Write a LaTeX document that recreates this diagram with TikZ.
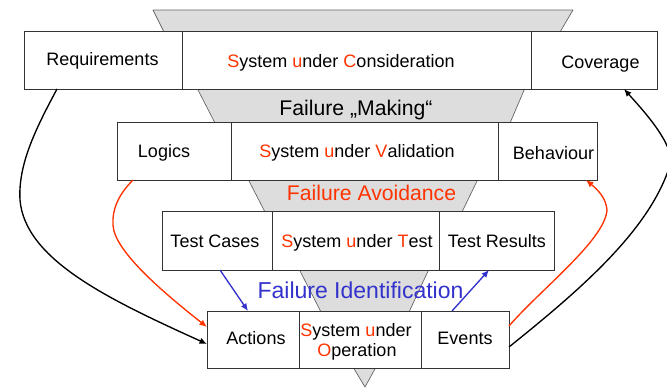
\documentclass[tikz,border=0pt]{standalone}
\usepackage{fontspec}
\setmainfont{Liberation Sans}
\usetikzlibrary{arrows.meta,calc}
\definecolor{suRed}{HTML}{FF3300}
\definecolor{suBlue}{HTML}{3333CC}
\definecolor{funnelGray}{HTML}{DDDDDD}
\newcommand\capred[1]{\textcolor{suRed}{#1}}
\begin{document}
\begin{tikzpicture}[x=1pt,y=-1pt,
  funnel/.style={fill=funnelGray, draw=black!60, line width=0.7pt, line join=round},
  cell/.style={rectangle, draw=black!80, fill=white, line width=0.9pt, anchor=north west, inner sep=0pt, outer sep=0pt},
  lbl/.style={anchor=base, inner sep=0pt, font=\fontsize{18}{20}\selectfont},
  stage/.style={anchor=base, inner sep=0pt, font=\fontsize{21.2}{24}\selectfont},
  flow/.style={line width=1.35pt, -{Latex[length=7.5pt,width=6.5pt]}},
]
\useasboundingbox (0,0) rectangle (667,388);

% funnel segments between the levels
\draw[funnel] (153,10) -- (573,10) -- (560,32) -- (164,32) -- cycle;
\draw[funnel] (197,88) -- (525,88) -- (510,123) -- (215,123) -- cycle;
\draw[funnel] (248,179) -- (478,179) -- (462,212) -- (265,212) -- cycle;
\draw[funnel] (299,269) -- (429,269) -- (409,312) -- (321,312) -- cycle;
\draw[funnel] (353,367) -- (376,367) -- (365,387) -- cycle;

% level 1
\node[cell, minimum width=158pt, minimum height=58pt] (req) at (24,31) {};
\node[cell, minimum width=349pt, minimum height=58pt] (suc) at (182,31) {};
\node[cell, minimum width=126pt, minimum height=58pt] (cov) at (531,31) {};
% level 2
\node[cell, minimum width=114pt, minimum height=58pt] (log) at (117,122) {};
\node[cell, minimum width=267pt, minimum height=58pt] (suv) at (231,122) {};
\node[cell, minimum width=99pt, minimum height=58pt] (beh) at (498,122) {};
% level 3
\node[cell, minimum width=110pt, minimum height=59pt] (tc) at (162,211) {};
\node[cell, minimum width=167pt, minimum height=59pt] (sut) at (272,211) {};
\node[cell, minimum width=115pt, minimum height=59pt] (tr) at (439,211) {};
% level 4
\node[cell, minimum width=92pt, minimum height=57pt] (act) at (207,311) {};
\node[cell, minimum width=122pt, minimum height=57pt] (suo) at (299,311) {};
\node[cell, minimum width=88pt, minimum height=57pt] (ev) at (421,311) {};

% cell texts
\node[lbl] (t-req) at (102.5,65) {Requirements};
\node[lbl] (t-suc) at (341,67.7) {\capred{S}ystem \capred{u}nder \capred{C}onsideration};
\node[lbl] (t-cov) at (600.5,68) {Coverage};
\node[lbl] (t-log) at (164,157) {Logics};
\node[lbl] (t-suv) at (357,157) {\capred{S}ystem \capred{u}nder \capred{V}alidation};
\node[lbl] (t-beh) at (553.5,159) {Behaviour};
\node[lbl] (t-tc) at (215,247) {Test Cases};
\node[lbl] (t-sut) at (357,247) {\capred{S}ystem \capred{u}nder \capred{T}est};
\node[lbl] (t-tr) at (497,247.5) {Test Results};
\node[lbl] (t-act) at (256,344) {Actions};
\node[lbl] (t-suo1) at (356,336) {\capred{S}ystem \capred{u}nder};
\node[lbl] (t-suo2) at (357,356) {\capred{O}peration};
\node[lbl] (t-ev) at (465,344) {Events};

% stage captions
\node[stage] (making) at (356,115) {Failure „Making“};
\node[stage, text=suRed] (avoid) at (371.5,200) {Failure Avoidance};
\node[stage, text=suBlue, font=\fontsize{23}{26}\selectfont] (ident) at (360.5,298.3) {Failure Identification};

% connectors
\draw[flow] ([xshift=33pt]req.south west) .. controls (35,130) and (18,165) .. (20,200)
  .. controls (25,260) and (110,300) .. ([yshift=-4.5pt]act.west);
\draw[flow, suRed] ([xshift=16pt]log.south west) .. controls (118,195) and (112,210) .. (113,225)
  .. controls (114,250) and (160,290) .. ([yshift=12.5pt]act.west);
\draw[flow, suBlue] ([xshift=58pt]tc.south west) -- ([xshift=41pt]act.north west);
\draw[flow, suBlue] ([xshift=31pt]ev.north west) -- ([xshift=50pt]tr.south west);
\draw[flow, suRed] ([yshift=13.5pt]ev.east) .. controls (540,290) and (605,240) .. (607,210)
  .. controls (606,198) and (598,190) .. ([xshift=-11pt]beh.south east);
\draw[flow] ([yshift=-7.5pt]ev.east) .. controls (580,290) and (650,230) .. (670,165)
  .. controls (676,145) and (640,107) .. ([xshift=-33pt]cov.south east);
\end{tikzpicture}
\end{document}
